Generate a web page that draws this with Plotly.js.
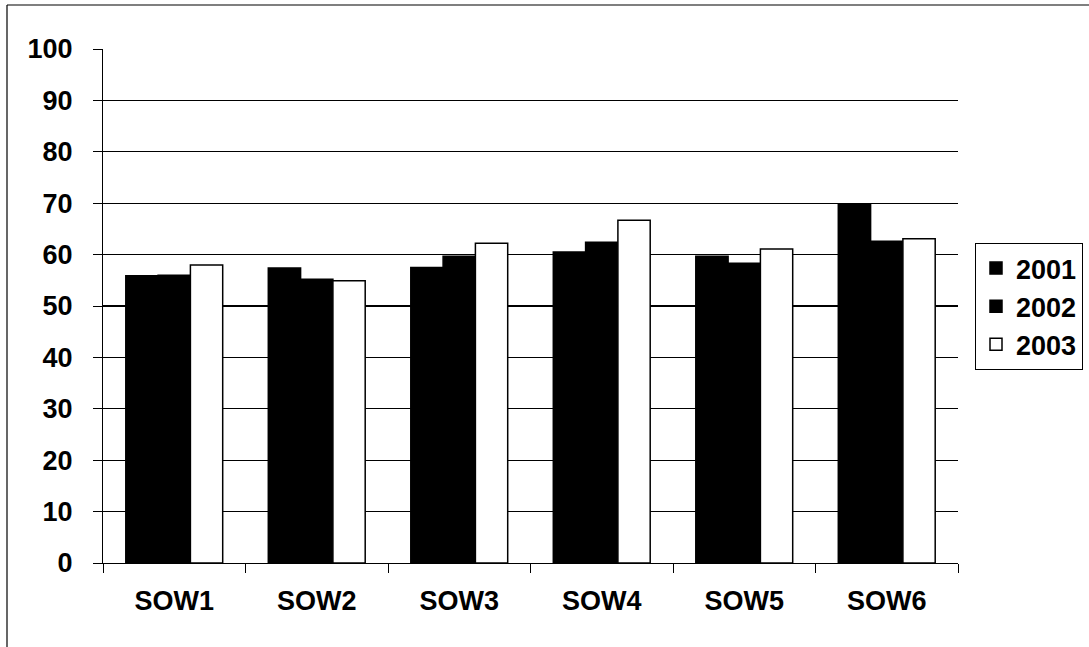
<!DOCTYPE html>
<html>
<head>
<meta charset="utf-8">
<script src="https://cdn.plot.ly/plotly-3.0.1.min.js"></script>
<style>
  html, body { margin: 0; padding: 0; background: #fff; }
  #chart { width: 1089px; height: 647px; }
</style>
</head>
<body>
<div id="chart"></div>
<script>
const categories = ["SOW1", "SOW2", "SOW3", "SOW4", "SOW5", "SOW6"];
const values2001 = [55.9, 57.4, 57.5, 60.5, 59.7, 69.8];
const values2002 = [56.0, 55.2, 59.7, 62.4, 58.3, 62.6];
const values2003 = [58.0, 54.9, 62.2, 66.7, 61.1, 63.1];
const seriesNames = ["2001", "2002", "2003"];
const yTicks = [0, 10, 20, 30, 40, 50, 60, 70, 80, 90, 100];

const font = { family: "Liberation Sans, Arial, sans-serif", size: 27, color: "#000", weight: "bold" };

const traces = [
  { name: seriesNames[0], y: values2001, fill: "#000" },
  { name: seriesNames[1], y: values2002, fill: "#000" },
  { name: seriesNames[2], y: values2003, fill: "#fff" }
].map(s => ({
  type: "bar",
  x: categories,
  y: s.y,
  name: s.name,
  marker: { color: s.fill, line: { color: "#000", width: 1.5 } },
  hoverinfo: "skip"
}));

const L = 103, R = 131, T = 49, B = 84, W = 1089, H = 647;
const pw = W - L - R, ph = H - T - B;
const px = v => (v - L) / pw;          // pixel -> paper x
const py = v => 1 - (v - T) / ph;      // pixel -> paper y

const layout = {
  width: W,
  height: H,
  paper_bgcolor: "#fff",
  plot_bgcolor: "#fff",
  font: font,
  margin: { l: L, r: R, t: T, b: B, autoexpand: false },
  barmode: "group",
  bargap: 0.32,
  bargroupgap: 0,
  showlegend: true,
  legend: {
    x: px(975), xanchor: "left",
    y: py(243), yanchor: "top",
    bordercolor: "#000", borderwidth: 1,
    bgcolor: "#fff",
    font: font,
    tracegroupgap: 0,
    itemwidth: 30
  },
  xaxis: {
    type: "category",
    showline: true, linecolor: "#000", linewidth: 1,
    ticks: "outside", tickson: "boundaries", ticklen: 9, tickcolor: "#000",
    showgrid: false, zeroline: false,
    ticklabelstandoff: 14,
    tickfont: font
  },
  yaxis: {
    range: [0, 100],
    tickvals: yTicks,
    ticktext: yTicks.map(String),
    showline: true, linecolor: "#000", linewidth: 1,
    ticks: "outside", ticklen: 9, tickcolor: "#000",
    showgrid: true, gridcolor: "#000", gridwidth: 1.2,
    zeroline: false,
    ticklabelstandoff: 15,
    tickfont: font
  },
  shapes: [
    { type: "line", xref: "paper", yref: "paper",
      x0: px(7), x1: px(7), y0: py(5), y1: py(647),
      line: { color: "#000", width: 1.2 } },
    { type: "line", xref: "paper", yref: "paper",
      x0: px(7), x1: px(1089), y0: py(5), y1: py(5),
      line: { color: "#000", width: 1.2 } }
  ]
};

Plotly.newPlot("chart", traces, layout, { displayModeBar: false, staticPlot: true });
</script>
</body>
</html>
